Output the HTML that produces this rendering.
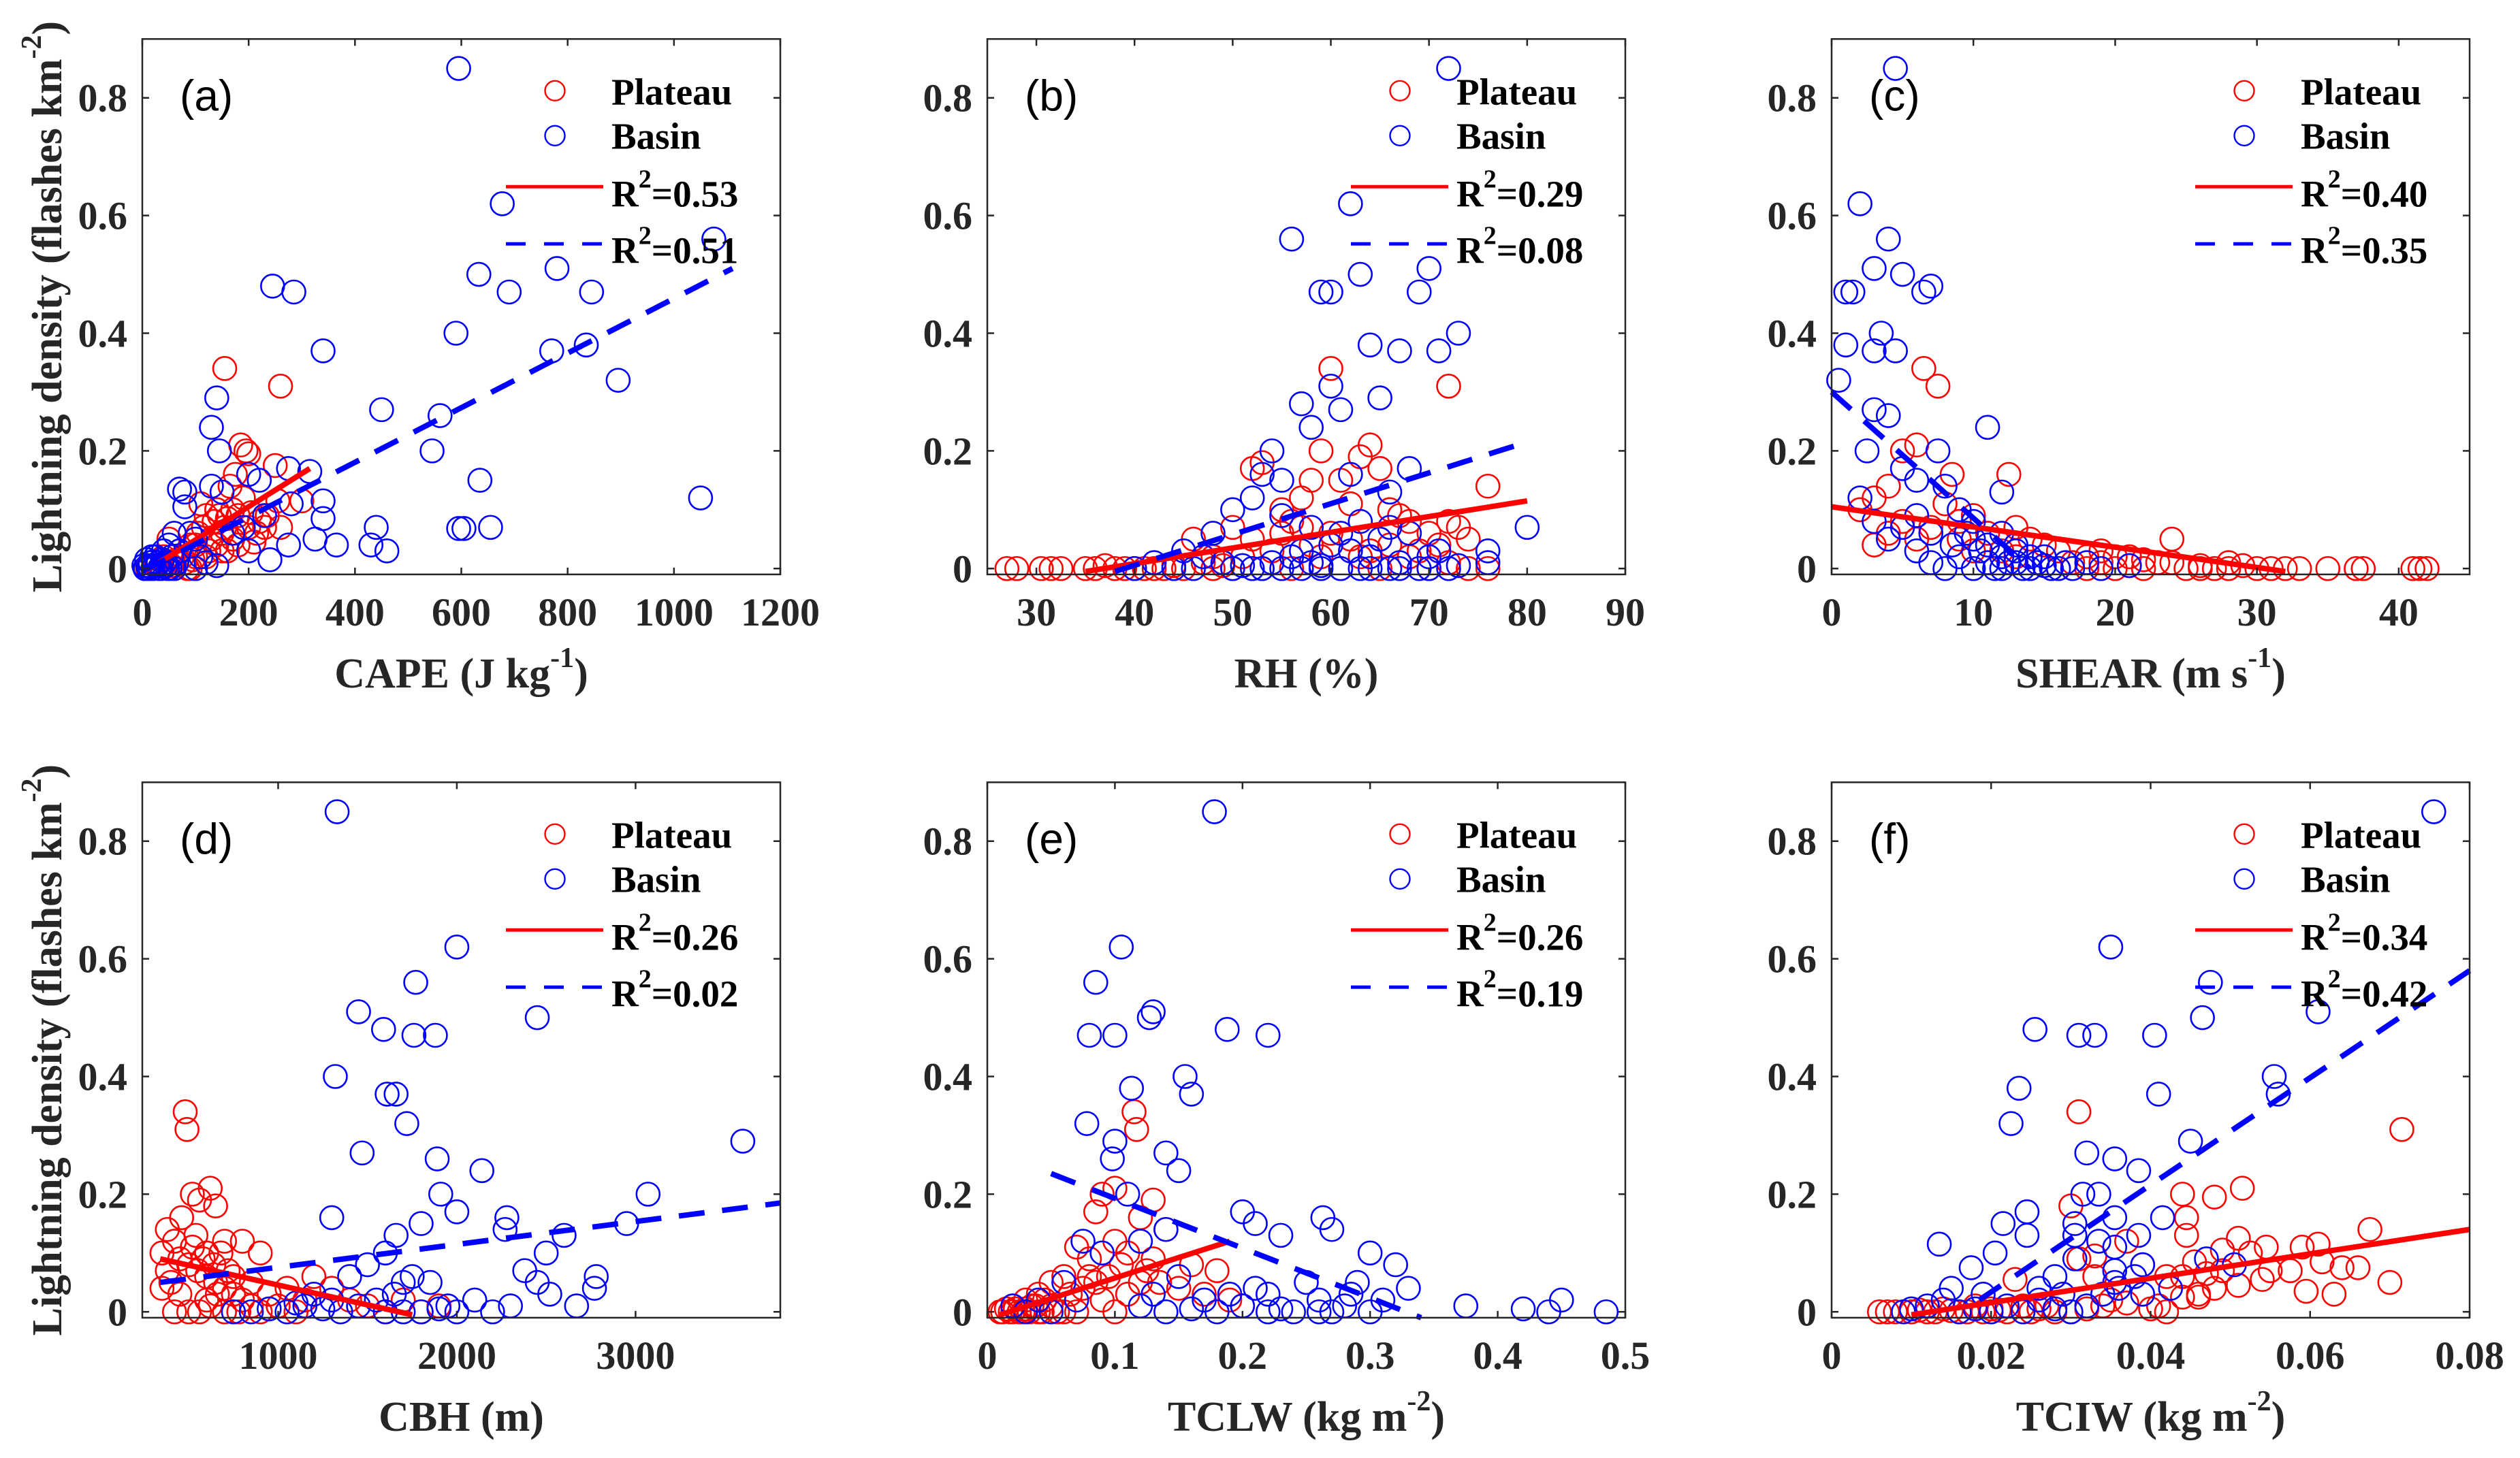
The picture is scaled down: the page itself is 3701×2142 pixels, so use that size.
<!DOCTYPE html>
<html><head><meta charset="utf-8"><style>
html,body{margin:0;padding:0;background:#fff}
svg{display:block}
text{font-family:"Liberation Serif",serif;font-weight:bold;fill:#262626}
</style></head><body>
<svg id="fig" xmlns="http://www.w3.org/2000/svg" width="3701" height="2142" viewBox="0 0 3701 2142"></svg>
<script>
const yTicks=[0,0.2,0.4,0.6,0.8];
const yTickLabels=["0","0.2","0.4","0.6","0.8"];
const yLim=[-0.01,0.9];

const aXTicks=[0,200,400,600,800,1000,1200];
const aPlateau=[[155,0.34],[260,0.31],[185,0.21],[195,0.20],[200,0.195],[250,0.175],[175,0.16],[165,0.14],[110,0.11],[300,0.115],[255,0.115],[220,0.08],[230,0.07],[260,0.07],[210,0.045],[180,0.04],[150,0.06],[130,0.05],[120,0.09],[140,0.10],[160,0.03],[100,0.02],[90,0.04],[80,0.01],[70,0.03],[60,0.0],[50,0.05],[40,0.02],[30,0.01],[20,0],[10,0],[55,0.005],[75,0.02],[85,0],[95,0.015],[105,0.06],[115,0.07],[125,0.03],[135,0.08],[145,0.09],[155,0.07],[170,0.1],[190,0.12],[205,0.095],[215,0.06],[235,0.09],[140,0.04],[160,0.085],[25,0.005],[35,0.0],[45,0.01],[65,0.015],[90,0.0],[100,0.04],[120,0.02],[150,0.03],[170,0.05],[200,0.07],[180,0.09]];
const aBasin=[[595,0.85],[677,0.62],[1075,0.56],[780,0.51],[633,0.50],[245,0.48],[285,0.47],[690,0.47],[845,0.47],[590,0.40],[835,0.38],[770,0.37],[340,0.37],[895,0.32],[450,0.27],[560,0.26],[140,0.29],[130,0.24],[545,0.20],[145,0.20],[275,0.17],[315,0.165],[200,0.16],[220,0.15],[635,0.15],[130,0.14],[70,0.135],[80,0.13],[150,0.13],[340,0.115],[280,0.11],[1050,0.12],[80,0.105],[340,0.085],[230,0.09],[440,0.07],[595,0.068],[605,0.068],[655,0.07],[325,0.05],[365,0.04],[430,0.04],[460,0.03],[275,0.04],[240,0.015],[140,0.005],[120,0.01],[60,0.06],[90,0.06],[100,0.05],[5,0],[10,0.005],[15,0.01],[20,0.0],[25,0.02],[30,0.01],[35,0.0],[40,0.03],[45,0.005],[50,0.04],[55,0.02],[60,0.0],[65,0.01],[70,0.03],[8,0.015],[12,0],[18,0.02],[28,0.005],[38,0.015],[48,0.0],[110,0.02],[100,0.0],[200,0.03],[170,0.06],[190,0.07],[3,0.005],[6,0.0],[14,0.003],[22,0.012],[32,0.0],[42,0.01],[52,0.0]];
const aFitPlateau=[[5,-0.005],[315,0.17]];
const aFitBasin=[[0,-0.005],[1110,0.51]];

const bXTicks=[30,40,50,60,70,80,90];
const bPlateau=[[27,0],[28,0],[30.5,0],[31.5,0],[32.5,0],[35,0],[36,0],[37,0.005],[38,0],[39,0],[40,0],[42,0],[44,0.005],[46,0.05],[48,0.02],[50,0.07],[52,0.17],[53,0.18],[55,0.1],[56,0.08],[57,0.12],[58,0.15],[59,0.2],[60,0.34],[61,0.15],[62,0.11],[63,0.19],[64,0.21],[65,0.17],[66,0.1],[67,0.09],[68,0.08],[70,0.06],[72,0.31],[72,0.08],[73,0.07],[74,0.05],[76,0.14],[45,0.0],[47,0.01],[49,0.005],[51,0.02],[54,0.03],[56,0.0],[58,0.04],[60,0.06],[62,0.05],[64,0.03],[66,0.04],[68,0.02],[70,0.0],[72,0.01],[74,0.0],[76,0.0],[52,0.05],[55,0.06],[57,0.07],[41,0.0],[43,0.0],[48,0.0],[50,0.0],[53,0.0],[59,0.02],[61,0.0],[63,0.02],[65,0.0],[69,0.03],[71,0.04]];
const bBasin=[[72,0.85],[62,0.62],[56,0.56],[70,0.51],[63,0.50],[59,0.47],[60,0.47],[69,0.47],[73,0.40],[71,0.37],[67,0.37],[64,0.38],[65,0.29],[57,0.28],[60,0.31],[58,0.24],[61,0.27],[54,0.2],[53,0.16],[55,0.15],[62,0.16],[66,0.13],[68,0.17],[50,0.1],[52,0.12],[48,0.06],[45,0.03],[40,0.0],[42,0.01],[46,0],[50,0],[51,0.005],[53,0.0],[54,0.01],[56,0.02],[57,0.0],[58,0.01],[59,0.005],[60,0.04],[61,0.0],[62,0.03],[63,0.0],[64,0.02],[65,0.05],[66,0],[67,0.01],[68,0.06],[69,0.0],[70,0.02],[71,0.03],[72,0.0],[73,0.005],[76,0.01],[76,0.03],[80,0.07],[55,0.09],[58,0.07],[63,0.08],[47,0.02],[44,0.0],[49,0.01],[52,0.0],[55,0.0],[57,0.03],[59,0.0],[61,0.06],[64,0.0],[66,0.07],[67,0.0],[70,0.0]];
const bFitPlateau=[[35,-0.005],[80,0.115]];
const bFitBasin=[[38,-0.005],[80,0.215]];

const cXTicks=[0,10,20,30,40];
const cPlateau=[[6.5,0.34],[7.5,0.31],[6,0.21],[5,0.2],[8.5,0.16],[12.5,0.16],[4,0.14],[3,0.12],[8,0.11],[10,0.09],[13,0.07],[2,0.1],[5,0.08],[7,0.07],[9,0.05],[14,0.05],[16,0.03],[18,0.02],[19,0.01],[20,0],[21,0.005],[22,0],[23,0.01],[24,0.05],[25,0],[26,0.005],[27,0],[28,0],[29,0.005],[30,0],[31,0],[32,0],[33,0],[35,0],[37,0],[37.5,0],[41,0],[41.5,0],[42,0],[15,0.04],[17,0.01],[11,0.06],[12,0.03],[6,0.05],[4,0.06],[3,0.04],[20,0.02],[22,0.015],[9,0.08],[10,0.03],[13,0.02],[16,0.0],[18,0.0],[19,0.03],[21,0.02],[24,0.01],[26,0.0],[28,0.01]];
const cBasin=[[4.5,0.85],[2,0.62],[4,0.56],[3,0.51],[5,0.50],[1,0.47],[1.5,0.47],[6.5,0.47],[7,0.48],[3.5,0.40],[1,0.38],[3,0.37],[4.5,0.37],[0.5,0.32],[3,0.27],[4,0.26],[11,0.24],[2.5,0.2],[7.5,0.2],[5,0.17],[6,0.15],[8,0.14],[12,0.13],[2,0.12],[9,0.1],[3,0.08],[5,0.07],[7,0.06],[10,0.05],[11,0.04],[12,0.02],[13,0.01],[14,0],[15,0.005],[16,0],[17,0],[18,0.01],[19,0],[21,0.005],[9,0.02],[10,0],[11,0.01],[12,0],[13,0.03],[14,0.02],[8,0.0],[7,0.01],[6,0.03],[4,0.05],[6,0.09],[10,0.08],[12,0.06],[13,0.04],[15,0.02],[10.5,0.03],[11.5,0.0],[12.5,0.01],[13.5,0.0],[14.5,0.01],[15.5,0.0],[16.5,0.01],[9.5,0.06],[8.5,0.04]];
const cFitPlateau=[[0,0.105],[32,-0.005]];
const cFitBasin=[[0,0.30],[14,0.0]];

const dXTicks=[1000,2000,3000];
const dPlateau=[[480,0.34],[490,0.31],[620,0.21],[520,0.2],[560,0.19],[650,0.18],[460,0.16],[380,0.14],[800,0.12],[420,0.12],[540,0.13],[600,0.1],[700,0.12],[900,0.1],[350,0.1],[450,0.09],[500,0.08],[550,0.07],[600,0.06],[650,0.05],[700,0.04],[750,0.03],[800,0.02],[850,0.01],[900,0],[1000,0.01],[1100,0.0],[1200,0.06],[1300,0.04],[1400,0.02],[1500,0.01],[1600,0.0],[1700,0.02],[1800,0.0],[1900,0.01],[400,0.05],[450,0.03],[500,0.0],[350,0.04],[600,0.02],[700,0.0],[750,0.06],[850,0.05],[950,0.03],[1050,0.04],[1150,0.02],[380,0.07],[420,0.0],[520,0.11],[580,0.09],[640,0.08],[680,0.1],[720,0.07],[780,0.0],[560,0.0],[620,0.01],[660,0.03]];
const dBasin=[[1330,0.85],[2000,0.62],[1770,0.56],[1450,0.51],[2450,0.50],[1590,0.48],[1760,0.47],[1880,0.47],[1320,0.40],[1610,0.37],[1660,0.37],[1720,0.32],[3600,0.29],[1470,0.27],[1890,0.26],[2140,0.24],[3070,0.2],[1910,0.2],[2000,0.17],[1300,0.16],[2280,0.16],[2270,0.14],[1800,0.15],[1660,0.13],[2950,0.15],[2600,0.13],[2500,0.1],[2380,0.07],[2780,0.06],[2770,0.04],[2450,0.05],[2520,0.03],[2670,0.01],[2300,0.01],[2200,0.0],[2100,0.02],[1950,0.01],[1850,0.05],[1750,0.06],[1650,0.03],[1550,0.02],[1450,0.01],[1350,0.0],[1250,0.005],[1150,0.01],[1050,0.0],[950,0.005],[850,0.0],[750,0.0],[1400,0.06],[1500,0.08],[1600,0.1],[1700,0.05],[1800,0.0],[1900,0.005],[2000,0.0],[1300,0.02],[1200,0.03],[1100,0.015],[1700,0.0],[1600,0.0]];
const dFitPlateau=[[340,0.09],[1750,-0.005]];
const dFitBasin=[[340,0.05],[3810,0.185]];

const eXTicks=[0,0.1,0.2,0.3,0.4,0.5];
const ePlateau=[[0.115,0.34],[0.117,0.31],[0.1,0.21],[0.09,0.2],[0.13,0.19],[0.085,0.17],[0.12,0.16],[0.14,0.14],[0.1,0.12],[0.07,0.11],[0.11,0.1],[0.08,0.09],[0.06,0.06],[0.05,0.05],[0.04,0.03],[0.03,0.02],[0.02,0.01],[0.01,0],[0.015,0.005],[0.025,0],[0.035,0.01],[0.045,0.02],[0.055,0.0],[0.065,0.03],[0.075,0.04],[0.085,0.05],[0.095,0.06],[0.105,0.08],[0.125,0.07],[0.135,0.05],[0.15,0.04],[0.16,0.08],[0.17,0.03],[0.18,0.07],[0.19,0.02],[0.2,0.01],[0.09,0.02],[0.1,0.0],[0.11,0.03],[0.06,0.0],[0.04,0.0],[0.05,0.01],[0.07,0.0],[0.02,0.0],[0.03,0.005],[0.12,0.05],[0.13,0.09],[0.08,0.06],[0.012,0.0],[0.018,0.0],[0.022,0.005],[0.028,0.0],[0.033,0.0],[0.038,0.01],[0.043,0.0]];
const eBasin=[[0.178,0.85],[0.105,0.62],[0.085,0.56],[0.13,0.51],[0.127,0.50],[0.188,0.48],[0.08,0.47],[0.1,0.47],[0.22,0.47],[0.155,0.40],[0.113,0.38],[0.16,0.37],[0.078,0.32],[0.1,0.29],[0.098,0.26],[0.14,0.27],[0.15,0.24],[0.11,0.2],[0.2,0.17],[0.21,0.15],[0.263,0.16],[0.075,0.12],[0.14,0.14],[0.12,0.12],[0.27,0.14],[0.23,0.13],[0.3,0.1],[0.32,0.08],[0.29,0.05],[0.33,0.04],[0.375,0.01],[0.42,0.005],[0.45,0.02],[0.485,0.0],[0.44,0.0],[0.3,0.0],[0.28,0.01],[0.26,0.02],[0.24,0.0],[0.22,0.03],[0.2,0.01],[0.18,0.0],[0.17,0.02],[0.16,0.005],[0.25,0.05],[0.21,0.04],[0.23,0.005],[0.27,0.0],[0.31,0.02],[0.15,0.06],[0.19,0.03],[0.09,0.1],[0.06,0.05],[0.04,0.02],[0.03,0.0],[0.02,0.01],[0.05,0.0],[0.07,0.02],[0.12,0.01],[0.13,0.03],[0.14,0.0],[0.22,0.0],[0.26,0.0],[0.285,0.03]];
const eFitPlateau=[[0.01,-0.005],[0.19,0.12]];
const eFitBasin=[[0.05,0.235],[0.34,-0.01]];

const fXTicks=[0,0.02,0.04,0.06,0.08];
const fPlateau=[[0.031,0.34],[0.0715,0.31],[0.0515,0.21],[0.044,0.2],[0.048,0.195],[0.03,0.18],[0.0445,0.16],[0.0445,0.13],[0.0675,0.14],[0.051,0.125],[0.0545,0.11],[0.061,0.115],[0.059,0.11],[0.049,0.105],[0.0525,0.1],[0.037,0.12],[0.033,0.095],[0.031,0.09],[0.023,0.055],[0.0455,0.085],[0.039,0.08],[0.0615,0.085],[0.064,0.075],[0.066,0.075],[0.0575,0.07],[0.055,0.07],[0.049,0.07],[0.047,0.065],[0.044,0.06],[0.042,0.06],[0.07,0.05],[0.054,0.055],[0.051,0.045],[0.0595,0.035],[0.063,0.03],[0.048,0.04],[0.046,0.03],[0.044,0.025],[0.046,0.025],[0.041,0.01],[0.04,0.005],[0.042,0.0],[0.037,0.015],[0.034,0.01],[0.032,0.005],[0.03,0.0],[0.028,0.0],[0.026,0.005],[0.024,0.01],[0.022,0.0],[0.02,0.005],[0.018,0.01],[0.016,0.0],[0.014,0.005],[0.012,0.0],[0.01,0.0],[0.008,0.0],[0.007,0.0],[0.006,0.0],[0.033,0.06],[0.035,0.02],[0.011,0.003],[0.013,0.0],[0.015,0.002],[0.017,0.0],[0.019,0.0],[0.021,0.003],[0.025,0.0],[0.027,0.01]];
const fBasin=[[0.0755,0.85],[0.035,0.62],[0.0475,0.56],[0.061,0.51],[0.0465,0.50],[0.0255,0.48],[0.031,0.47],[0.033,0.47],[0.0405,0.47],[0.0555,0.40],[0.0235,0.38],[0.041,0.37],[0.056,0.37],[0.0225,0.32],[0.045,0.29],[0.032,0.27],[0.0355,0.26],[0.0385,0.24],[0.0315,0.2],[0.0335,0.2],[0.0245,0.17],[0.0355,0.16],[0.0415,0.16],[0.0305,0.15],[0.0215,0.15],[0.0245,0.13],[0.0305,0.13],[0.0385,0.13],[0.0335,0.12],[0.0355,0.11],[0.0135,0.115],[0.0205,0.1],[0.0305,0.09],[0.047,0.09],[0.0505,0.08],[0.0175,0.075],[0.0355,0.07],[0.039,0.08],[0.0355,0.05],[0.028,0.06],[0.015,0.04],[0.019,0.03],[0.014,0.02],[0.012,0.01],[0.01,0.005],[0.009,0.0],[0.016,0.0],[0.018,0.005],[0.02,0.0],[0.022,0.01],[0.024,0.0],[0.026,0.02],[0.028,0.005],[0.03,0.0],[0.032,0.01],[0.034,0.03],[0.036,0.04],[0.038,0.06],[0.039,0.03],[0.0425,0.04],[0.026,0.04],[0.029,0.03]];
const fFitPlateau=[[0.01,-0.005],[0.08,0.14]];
const fFitBasin=[[0.0185,0.02],[0.08,0.58]];

const panels=[
 {id:'a',col:0,row:0,xlim:[0,1200],ticks:aXTicks,plateau:aPlateau,basin:aBasin,fp:aFitPlateau,fb:aFitBasin,r:['0.53','0.51'],xl:['CAPE (J kg','-1',')']},
 {id:'b',col:1,row:0,xlim:[25,90],ticks:bXTicks,plateau:bPlateau,basin:bBasin,fp:bFitPlateau,fb:bFitBasin,r:['0.29','0.08'],xl:['RH (%)','','']},
 {id:'c',col:2,row:0,xlim:[0,45],ticks:cXTicks,plateau:cPlateau,basin:cBasin,fp:cFitPlateau,fb:cFitBasin,r:['0.40','0.35'],xl:['SHEAR (m s','-1',')']},
 {id:'d',col:0,row:1,xlim:[240,3810],ticks:dXTicks,plateau:dPlateau,basin:dBasin,fp:dFitPlateau,fb:dFitBasin,r:['0.26','0.02'],xl:['CBH (m)','','']},
 {id:'e',col:1,row:1,xlim:[0,0.5],ticks:eXTicks,plateau:ePlateau,basin:eBasin,fp:eFitPlateau,fb:eFitBasin,r:['0.26','0.19'],xl:['TCLW (kg m','-2',')']},
 {id:'f',col:2,row:1,xlim:[0,0.08],ticks:fXTicks,plateau:fPlateau,basin:fBasin,fp:fFitPlateau,fb:fFitBasin,r:['0.34','0.42'],xl:['TCIW (kg m','-2',')']}
];
const NS='http://www.w3.org/2000/svg';
const svg=document.getElementById('fig');
function mk(tag,attrs,parent){const e=document.createElementNS(NS,tag);for(const k in attrs)e.setAttribute(k,attrs[k]);(parent||svg).appendChild(e);return e;}
const colL=[209,1450,2690], W=937, rowT=[57.3,1149.3], H=786.6;
panels.forEach(p=>{
  const L=colL[p.col],T=rowT[p.row],R=L+W,B=T+H;
  const g=mk('g',{});
  
  
  const sx=v=>L+(v-p.xlim[0])/(p.xlim[1]-p.xlim[0])*W;
  const sy=v=>B-(v-yLim[0])/(yLim[1]-yLim[0])*H;
  const marks=mk('g',{},g);
  [[p.plateau,'#ff0000','plateau-point'],[p.basin,'#0000ff','basin-point']].forEach(([arr,c,nm])=>{
    arr.forEach(d=>{const ci=mk('circle',{cx:sx(d[0]),cy:sy(d[1]),r:17,fill:'none',stroke:c,'stroke-width':2.6},marks);
      
      });
  });
  const lp=mk('line',{x1:sx(p.fp[0][0]),y1:sy(p.fp[0][1]),x2:sx(p.fp[1][0]),y2:sy(p.fp[1][1]),stroke:'#ff0000','stroke-width':8},marks);
  
  
  const lb=mk('line',{x1:sx(p.fb[0][0]),y1:sy(p.fb[0][1]),x2:sx(p.fb[1][0]),y2:sy(p.fb[1][1]),stroke:'#0000ff','stroke-width':8,'stroke-dasharray':'38 26'},marks);
  
  
  const box=mk('rect',{x:L,y:T,width:W,height:H,fill:'none',stroke:'#262626','stroke-width':2.5},g);
  
  
  p.ticks.forEach(t=>{const x=sx(t);
    mk('line',{x1:x,y1:B,x2:x,y2:B-10,stroke:'#262626','stroke-width':2.5},g);
    mk('line',{x1:x,y1:T,x2:x,y2:T+10,stroke:'#262626','stroke-width':2.5},g);
    const tx=mk('text',{x:x,y:B+75,'font-size':58,'text-anchor':'middle'},g);tx.textContent=String(t);
    
    });
  yTicks.forEach((t,i)=>{const y=sy(t);
    mk('line',{x1:L,y1:y,x2:L+10,y2:y,stroke:'#262626','stroke-width':2.5},g);
    mk('line',{x1:R,y1:y,x2:R-10,y2:y,stroke:'#262626','stroke-width':2.5},g);
    const tx=mk('text',{x:L-22,y:y+20,'font-size':58,'text-anchor':'end'},g);tx.textContent=yTickLabels[i];
    
    });
  const lab=mk('text',{x:L+55,y:T+105,'font-size':64,style:'font-family:"Liberation Sans",sans-serif;font-weight:normal;fill:#000'},g);lab.textContent='('+p.id+')';
  
  
  const xl=mk('text',{x:L+W/2,y:B+166,'font-size':62,'text-anchor':'middle'},g);
  
  
  xl.appendChild(document.createTextNode(p.xl[0]));
  if(p.xl[1]){const s=mk('tspan',{dy:-30,'font-size':42},xl);s.textContent=p.xl[1];const s2=mk('tspan',{dy:30},xl);s2.textContent=p.xl[2];}
  if(p.col===0){const yl=mk('text',{x:0,y:0,'font-size':62,'text-anchor':'middle',transform:'translate(90,'+(T+H/2)+') rotate(-90)'},g);
    
    
    yl.appendChild(document.createTextNode('Lightning density (flashes km'));
    const s=mk('tspan',{dy:-30,'font-size':42},yl);s.textContent='-2';const s2=mk('tspan',{dy:30},yl);s2.textContent=')';}
  const lg=mk('g',{},g);
  
  
  mk('circle',{cx:R-331,cy:T+76,r:14.5,fill:'none',stroke:'#ff0000','stroke-width':2.4},lg);
  mk('circle',{cx:R-331,cy:T+142,r:14.5,fill:'none',stroke:'#0000ff','stroke-width':2.4},lg);
  mk('line',{x1:R-403,y1:T+217,x2:R-260,y2:T+217,stroke:'#ff0000','stroke-width':5},lg);
  mk('line',{x1:R-403,y1:T+301,x2:R-260,y2:T+301,stroke:'#0000ff','stroke-width':5,'stroke-dasharray':'29 27'},lg);
  const lt=[['Plateau',96],['Basin',161]];
  lt.forEach(([s,dy])=>{const t=mk('text',{x:R-248,y:T+dy,'font-size':55,style:'fill:#000'},lg);t.textContent=s;});
  [[p.r[0],246],[p.r[1],329]].forEach(([v,dy])=>{const t=mk('text',{x:R-248,y:T+dy,'font-size':55,style:'fill:#000'},lg);
    t.appendChild(document.createTextNode('R'));const s=mk('tspan',{dy:-28,'font-size':38},t);s.textContent='2';
    const s2=mk('tspan',{dy:28},t);s2.textContent='='+v;});
});
</script>
</body></html>
